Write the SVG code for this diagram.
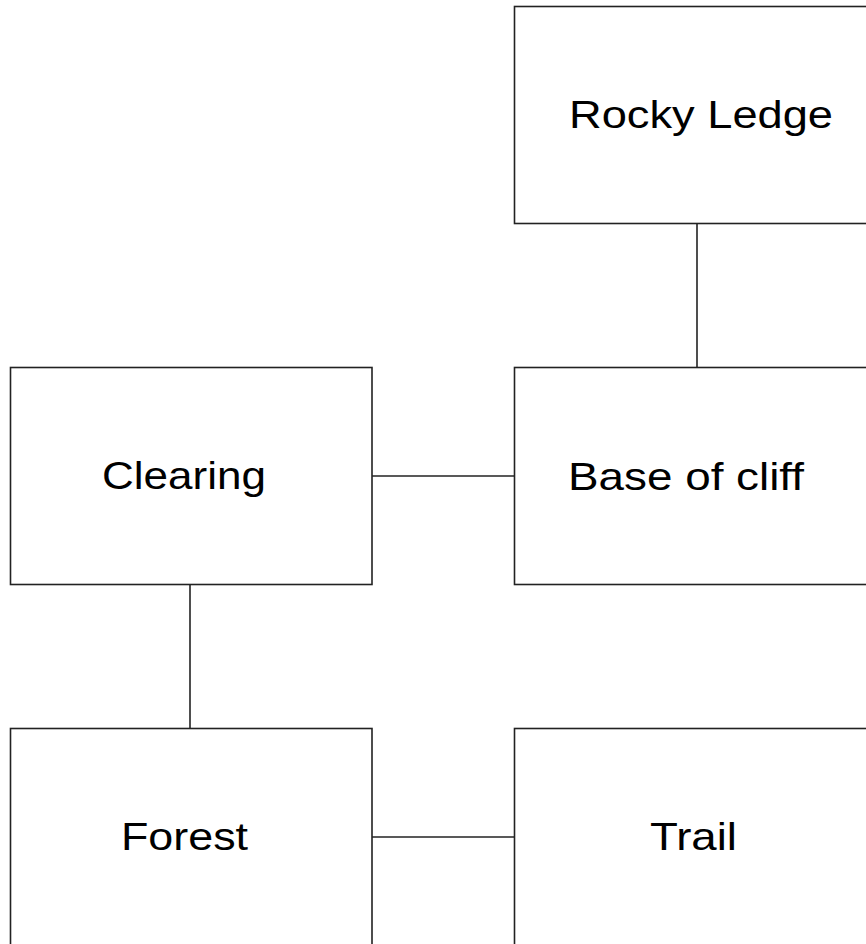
<svg xmlns="http://www.w3.org/2000/svg" width="866" height="944" viewBox="0 0 866 944">
<style>
.box{fill:#fff;stroke:#222;stroke-width:1.6}
.edge{stroke:#222;stroke-width:1.6;fill:none}
.lbl{font-family:"Liberation Sans",Arial,sans-serif;font-size:39px;fill:#000}
</style>
<rect width="866" height="944" fill="#fff"/>
<g id="connectors">
<line class="edge" x1="697" y1="223.5" x2="697" y2="367.5"/>
<line class="edge" x1="372" y1="476" x2="514.5" y2="476"/>
<line class="edge" x1="190" y1="584.5" x2="190" y2="728.5"/>
<line class="edge" x1="372" y1="837" x2="514.5" y2="837"/>
</g>
<g id="rocky-ledge">
<rect class="box" x="514.5" y="6.5" width="362" height="217"/>
<text class="lbl" x="569" y="128" textLength="264" lengthAdjust="spacingAndGlyphs">Rocky Ledge</text>
</g>
<g id="clearing">
<rect class="box" x="10.5" y="367.5" width="361.5" height="217"/>
<text class="lbl" x="102" y="489" textLength="164" lengthAdjust="spacingAndGlyphs">Clearing</text>
</g>
<g id="base-of-cliff">
<rect class="box" x="514.5" y="367.5" width="362" height="217"/>
<text class="lbl" x="568" y="490" textLength="236" lengthAdjust="spacingAndGlyphs">Base of cliff</text>
</g>
<g id="forest">
<rect class="box" x="10.5" y="728.5" width="361.5" height="217"/>
<text class="lbl" x="121" y="850" textLength="127" lengthAdjust="spacingAndGlyphs">Forest</text>
</g>
<g id="trail">
<rect class="box" x="514.5" y="728.5" width="362" height="217"/>
<text class="lbl" x="650" y="850" textLength="87" lengthAdjust="spacingAndGlyphs">Trail</text>
</g>
</svg>
